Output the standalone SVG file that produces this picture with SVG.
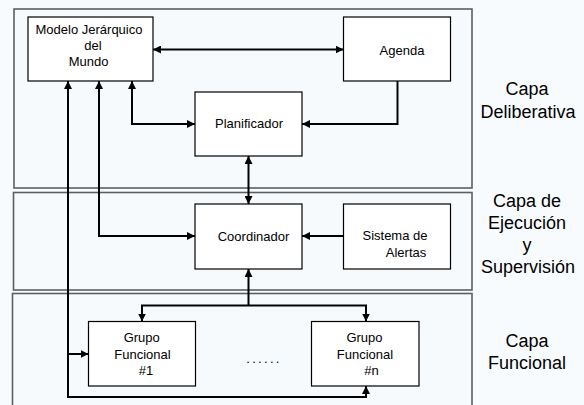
<svg xmlns="http://www.w3.org/2000/svg" width="584" height="405" viewBox="0 0 584 405">
<defs>
<style>
.layer{fill:#f6fafc;stroke:#5e5e5e;stroke-width:1.6}
.node{fill:#ffffff;stroke:#000;stroke-width:1.2}
.t{font-family:"Liberation Sans",Arial,sans-serif;font-size:13px;fill:#000;text-anchor:middle}
.lbl{font-family:"Liberation Sans",Arial,sans-serif;font-size:18px;fill:#000;text-anchor:middle}
.c{fill:none;stroke:#000;stroke-width:2}
</style>
<marker id="ah" viewBox="0 0 10 10" refX="10" refY="5" markerWidth="8" markerHeight="8" markerUnits="userSpaceOnUse" orient="auto-start-reverse">
<path d="M0,0 L10,5 L0,10 Z" fill="#000"/>
</marker>
</defs>
<rect x="0" y="0" width="584" height="405" fill="#f8fbfd"/>
<g id="layers">
<rect class="layer" x="14" y="9" width="458" height="179"/>
<rect class="layer" x="13.5" y="192.5" width="458.5" height="97.5"/>
<rect class="layer" x="12.5" y="293.5" width="459.5" height="120"/>
</g>
<g id="labels">
<text class="lbl" x="527" y="95">Capa</text>
<text class="lbl" x="528" y="117.5">Deliberativa</text>
<text class="lbl" x="527" y="207">Capa de</text>
<text class="lbl" x="527" y="229">Ejecución</text>
<text class="lbl" x="527" y="250.5">y</text>
<text class="lbl" x="528" y="272.5">Supervisión</text>
<text class="lbl" x="527" y="347">Capa</text>
<text class="lbl" x="527" y="368.5">Funcional</text>
</g>
<g id="connectors">
<path class="c" d="M153,49.5 H343.5" marker-start="url(#ah)" marker-end="url(#ah)"/>
<path class="c" d="M132,81 V124 H195" marker-start="url(#ah)" marker-end="url(#ah)"/>
<path class="c" d="M397.5,81 V124 H302" marker-end="url(#ah)"/>
<path class="c" d="M248.5,156 V204" marker-start="url(#ah)" marker-end="url(#ah)"/>
<path class="c" d="M99,81 V236 H195" marker-start="url(#ah)" marker-end="url(#ah)"/>
<path class="c" d="M343.5,236 H302" marker-end="url(#ah)"/>
<path class="c" d="M248.5,305.5 V269" marker-end="url(#ah)"/>
<path class="c" d="M142,321.5 V305.5 H366 V321.5" marker-start="url(#ah)" marker-end="url(#ah)"/>
<path class="c" d="M68,81 V397 H366 V386" marker-start="url(#ah)" marker-end="url(#ah)"/>
<path class="c" d="M68,354 H88.5" marker-end="url(#ah)"/>
</g>
<g id="modelo">
<rect class="node" x="28" y="17" width="125" height="64"/>
<text class="t" x="89" y="34">Modelo Jerárquico</text>
<text class="t" x="93" y="50">del</text>
<text class="t" x="88.5" y="66">Mundo</text>
</g>
<g id="agenda">
<rect class="node" x="343.5" y="17" width="107" height="64"/>
<text class="t" x="402" y="54.5">Agenda</text>
</g>
<g id="planificador">
<rect class="node" x="195" y="92" width="107" height="64"/>
<text class="t" x="249" y="128">Planificador</text>
</g>
<g id="coordinador">
<rect class="node" x="195" y="204" width="107" height="65"/>
<text class="t" x="253.5" y="241">Coordinador</text>
</g>
<g id="alertas">
<rect class="node" x="343.5" y="204" width="107" height="65"/>
<text class="t" x="395" y="240">Sistema de</text>
<text class="t" x="406" y="256.5">Alertas</text>
</g>
<g id="grupo1">
<rect class="node" x="88.5" y="321.5" width="107" height="64.5"/>
<text class="t" x="141.7" y="341.5">Grupo</text>
<text class="t" x="142.5" y="358.5">Funcional</text>
<text class="t" x="146" y="375">#1</text>
</g>
<g id="grupon">
<rect class="node" x="311.5" y="321.5" width="107.5" height="64.5"/>
<text class="t" x="364.5" y="341.5">Grupo</text>
<text class="t" x="365" y="358.5">Funcional</text>
<text class="t" x="371.5" y="375">#n</text>
</g>
<g id="dots">
<text class="t" x="264" y="363" style="letter-spacing:2.3px">......</text>
</g>
</svg>
